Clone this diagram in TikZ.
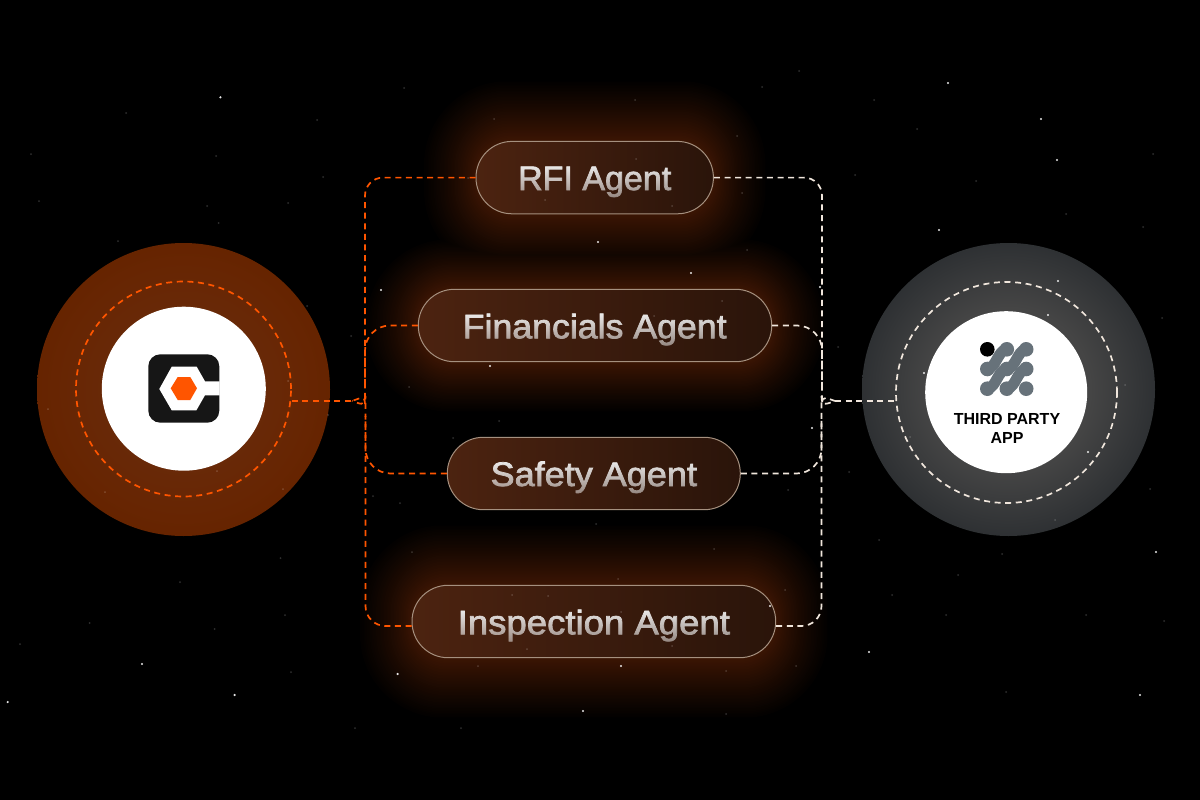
\documentclass[tikz,border=0pt]{standalone}
\usepackage{fontspec}
\usepackage{graphicx}
\usetikzlibrary{fadings,calc}
\setmainfont{Liberation Sans}
\newfontfamily\pillfont[FakeBold=2.1]{Liberation Sans}
\definecolor{burnt}{HTML}{FF5500}
\definecolor{cream}{HTML}{F0E6DC}
\definecolor{pillL}{HTML}{4C2310}
\definecolor{pillR}{HTML}{2A140A}
\definecolor{pillEdge}{HTML}{A5907F}
\definecolor{logoDark}{HTML}{161616}
\definecolor{iconGrey}{HTML}{67727A}
\definecolor{labelInk}{HTML}{F0F0F0}
\pgfdeclareradialshading{leftdisc}{\pgfpoint{0bp}{0bp}}{rgb(0bp)=(.42,.17,.04); rgb(14bp)=(.41,.16,.03); rgb(25bp)=(.40,.14,.0); rgb(50bp)=(.40,.14,.0)}
\pgfdeclareradialshading{rightdisc}{\pgfpoint{0bp}{0bp}}{rgb(0bp)=(.28,.28,.28); rgb(14bp)=(.27,.27,.27); rgb(25bp)=(.18,.19,.20); rgb(50bp)=(.18,.19,.20)}
\tikzfading[name=labelfade, top color=transparent!0, bottom color=transparent!50]
\tikzset{
  x=1pt,y=-1pt,
  disc/.style={circle,inner sep=0pt,minimum size=293pt},
  whitedisc/.style={circle,fill=white,inner sep=0pt},
  pill/.style={rectangle,rounded corners=36pt,minimum height=72.4pt,inner sep=0pt,
    left color=pillL,right color=pillR,draw=pillEdge,line width=1pt},
  dashbase/.style={line width=1.7pt,dash pattern=on 6pt off 4.6pt},
  orangelink/.style={dashbase,draw=burnt},
  creamlink/.style={dashbase,draw=cream},
  pilltext/.style={anchor=base,inner sep=0pt,text=labelInk,font=\pillfont\fontsize{34}{40}\selectfont},
  apptext/.style={anchor=base,inner sep=0pt,text=black,font=\bfseries\fontsize{16}{19}\selectfont},
  iconlink/.style={line width=11pt,draw=iconGrey,line cap=round},
  icondot/.style={fill=iconGrey},
}
\newcommand{\glowbox}[4]{% x1 y1 x2 y2
  \foreach \k in {40,39,...,0}{
    \pgfmathsetmacro{\tt}{\k/40}
    \pgfmathsetmacro{\dx}{52*(\tt+0.0001)^1.3}
    \pgfmathsetmacro{\dy}{#4*\tt}
    \pgfmathsetmacro{\rr}{36+0.9*\dx}
    \pgfmathsetmacro{\br}{(1-0.94*\tt)^1.1}
    \pgfmathsetmacro{\cr}{.235*\br}
    \pgfmathsetmacro{\cg}{.083*\br}
    \pgfmathsetmacro{\cb}{.012*\br}
    \definecolor{glowstep}{rgb}{\cr,\cg,\cb}
    \path[fill=glowstep,rounded corners=\rr pt] (#1-\dx,#2-\dy) rectangle (#3+\dx,#2+72.4+\dy);
  }
}
\newcommand{\fadedlabel}[5]{% name, x, baseline, stretch, text
  \begin{scope}
    \pgfsetfading{labelfade}{\pgftransformshift{\pgfpoint{#2pt}{\dimexpr-#3pt+9pt\relax}}\pgftransformxscale{4}\pgftransformyscale{0.7}}
    \begin{scope}[transparency group]
      \node[pilltext] (#1) at (#2,#3) {\scalebox{#4}[1]{#5}};
    \end{scope}
  \end{scope}
}
\begin{document}
\begin{tikzpicture}
\fill[black] (0,0) rectangle (1200,800);
\useasboundingbox (0,0) rectangle (1200,800);

% glows
\begin{scope}[blend mode=lighten]
\glowbox{476}{141.3}{713.4}{60}
\glowbox{418.3}{289.3}{771.7}{50}
\glowbox{412}{585.3}{775.7}{60}
\end{scope}

% discs
\node[disc,shading=leftdisc] (leftouter) at (183.5,389.5) {};
\node[disc,shading=rightdisc] (rightouter) at (1008.5,389.5) {};
\node[circle,draw=burnt,dashbase,minimum size=215pt,inner sep=0pt] (leftring) at (183.5,389) {};
\node[circle,draw=cream,dashbase,minimum size=221pt,inner sep=0pt] (rightring) at (1006.5,392.5) {};
\node[whitedisc,minimum size=164pt] (leftwhite) at (183.8,388.7) {};
\node[whitedisc,minimum size=162pt] (rightwhite) at (1006.2,392.2) {};

% pills
\node[pill,minimum width=237.4pt] (rfi) at (594.7,177.6) {};
\node[pill,minimum width=353.4pt] (fin) at (595,325.5) {};
\node[pill,minimum width=293pt] (saf) at (593.8,473.5) {};
\node[pill,minimum width=363.7pt] (ins) at (593.85,621.5) {};

% junctions
\coordinate (jl) at (352,401);
\coordinate (jr) at (835,401);

% orange connectors
\draw[orangelink] (leftring.east |- jl) -- (jl);
\draw[orangelink,rounded corners=18pt] (rfi.west) -- (365,177.6) -- (365,386) .. controls (365,394) and (359,399) .. (jl);
\draw[orangelink,rounded corners=25pt] (fin.west) -- (365,325.5) -- (365,386);
\draw[orangelink,rounded corners=20pt] ([yshift=-4.5pt]ins.west) -- (365.5,626) -- (365.5,416) .. controls (365.5,408) and (359,403) .. (jl);
\draw[orangelink,rounded corners=25pt] (saf.west) -- (365.5,473.5) -- (365.5,416);

% cream connectors
\draw[creamlink] (jr) -- (rightring.west |- jr);
\draw[creamlink,rounded corners=18pt] (rfi.east) -- (822,177.6) -- (822,386) .. controls (822,394) and (828,399) .. (jr);
\draw[creamlink,rounded corners=25pt] (fin.east) -- (822,325.5) -- (822,386);
\draw[creamlink,rounded corners=20pt] ([yshift=-4.5pt]ins.east) -- (821.5,626) -- (821.5,416) .. controls (821.5,408) and (828,403) .. (jr);
\draw[creamlink,rounded corners=25pt] (saf.east) -- (821.5,473.5) -- (821.5,416);

% pill labels
\fadedlabel{rfitext}{594.7}{190}{1}{RFI Agent}
\fadedlabel{fintext}{594.7}{338.3}{1.05}{Financials Agent}
\fadedlabel{saftext}{593.8}{486}{1.06}{Safety Agent}
\fadedlabel{instext}{593.85}{634.3}{1.075}{Inspection Agent}

% left logo
\fill[logoDark,rounded corners=12pt] (148.3,354.3) rectangle (219.3,422.7);
\fill[white] (159.3,389) -- (171.7,366.7) -- (196.7,366.7) -- (205,381.3) -- (219.6,381.3) -- (219.6,395.3) -- (205,395.3) -- (196.4,410.3) -- (171.7,410.3) -- cycle;
\fill[burnt] (170.7,388.3) -- (177.7,377) -- (190.3,377) -- (197,388.3) -- (190.3,400) -- (177.7,400) -- cycle;

% right icon
\fill[black] (987.3,349.3) circle[radius=7.3];
\foreach \cx/\cy in {1006.8/349.3,1026.2/349.3,987.3/369,1006.8/369,1026.2/369,987.3/388.7,1006.8/388.7,1026.2/388.7}
  \fill[icondot] (\cx,\cy) circle[radius=7.3];
\draw[iconlink] (988.5,368.5) .. controls (996,367) and (998,351.3) .. (1005.6,349.8);
\draw[iconlink] (1008,368.5) .. controls (1015.5,367) and (1017.5,351.3) .. (1025,349.8);
\draw[iconlink] (988.5,388.2) .. controls (996,386.7) and (998,371) .. (1005.6,369.5);
\draw[iconlink] (1008,388.2) .. controls (1015.5,386.7) and (1017.5,371) .. (1025,369.5);
\node[apptext] (apptop) at (1007,424) {THIRD PARTY};
\node[apptext] (appbot) at (1007,443) {APP};

% stars
\foreach \sx/\sy in {220.4/97.3,948/83,1041/119,1057/160,939/230,142/664,234.6/695,7.7/702,397.6/674,583/711,1156/552,869/652,1140/695,621/666,770/606,381/290,1058/281,1048/315,924/373,1088/452,820/287,812/428,598/242,691/273,490/366}
  \fill[white,fill opacity=.9] (\sx,\sy) circle[radius=1.2];
\foreach \sx/\sy in {126/113,404/88,317/120,31/154,216/156,323/177,39/201,207/206,288/203,218.5/223,494/119,545/200,468/178,799/71,762/87,874/100,917/129,635/100,737/136,636/159,742/193,672/206,855/175,976/181,1066/214,1153/154,1143/227,280.5/558,180/582,89.6/623,214.7/629,20/644,285/615,291/672,412/552,355/728,461/728,478/666,512/595,548/596,527/649,1002/554,958/575,892/595,946/615,1086/615,1164/621,1006/692,714/549,618/579,785/590,796/666,726/671,726/714,672/646,621/612,879/540,118/241,307/306,351/336,409/387,328/415,373/496,400/503,48/409,105/492,217/471,283/489,288/381,1162/318,838/347,849/472,788/490,1125/385,1150/489,1055/520,910/437,747/250,722/301,654/316,499/421,453/438,596/524}
  \fill[white,fill opacity=.18] (\sx,\sy) circle[radius=1];
\end{tikzpicture}
\end{document}
